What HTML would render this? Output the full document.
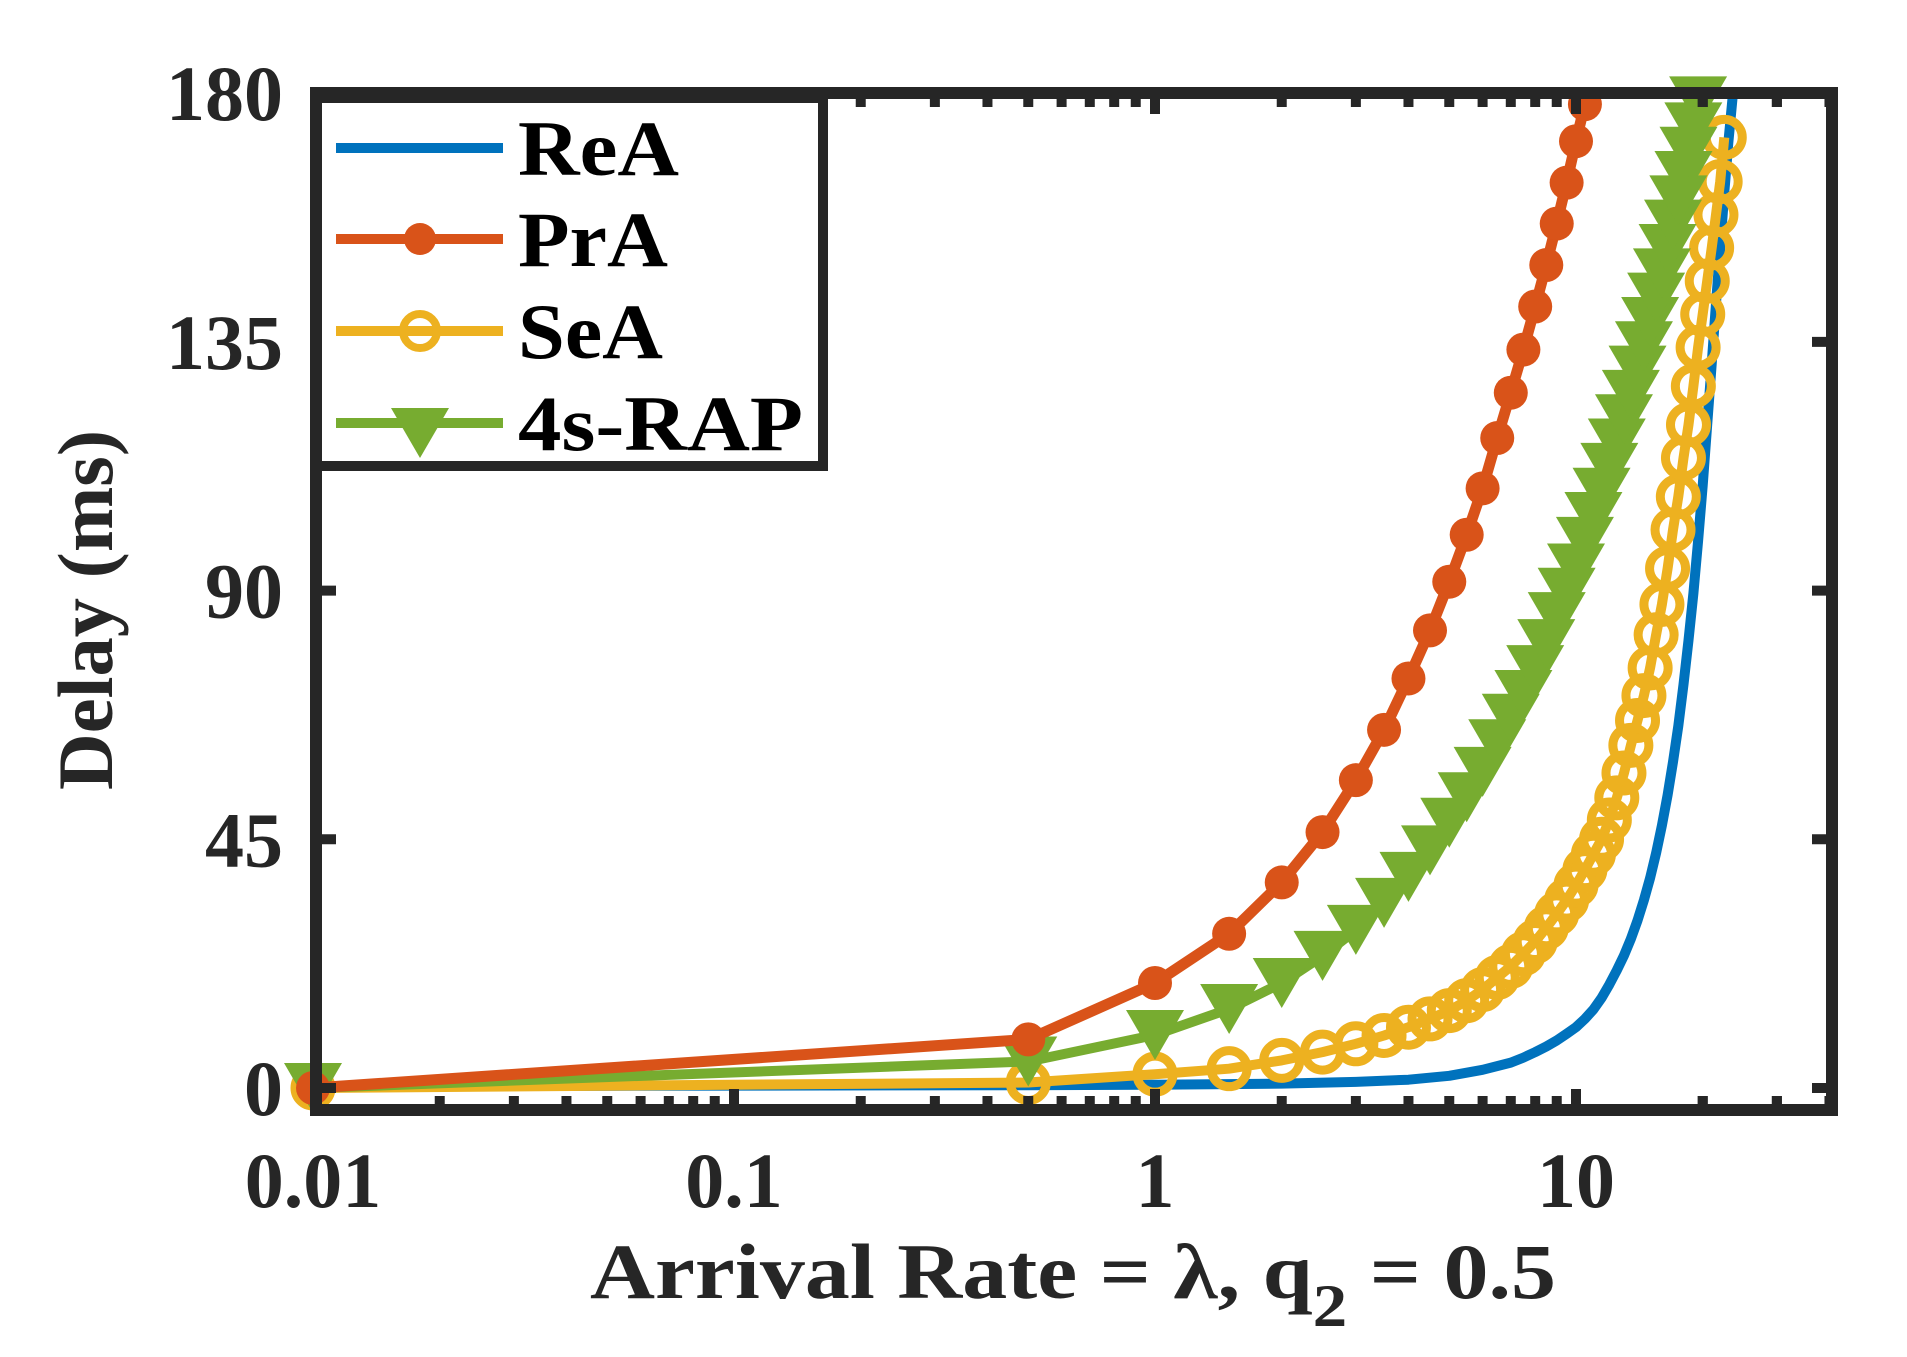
<!DOCTYPE html>
<html><head><meta charset="utf-8"><style>
html,body{margin:0;padding:0;background:#fff;}
svg{display:block;font-family:"Liberation Serif",serif;font-weight:bold;}
</style></head><body>
<svg id="chart" width="1907" height="1357" viewBox="0 0 1907 1357">
<g id="series"></g>
<g id="axes"></g>
<g id="legend"></g>
</svg>
<script>
// ---- data ----
const xTicks = [0.01, 0.1, 1, 10];
const xTickLabels = ["0.01", "0.1", "1", "10"];
const yTicks = [0, 45, 90, 135, 180];
const yTickLabels = ["0", "45", "90", "135", "180"];

const reaX = [0.01,0.5,1,2,3,4,5,6,7,7.5,8,8.5,9,9.5,10,10.5,11,11.5,12,12.5,13,13.5,14,14.5,15,15.5,16,16.5,17,17.5,18,18.5,19,19.5,20,20.5,21,21.5,22,22.5,23,23.6];
const reaY = [0.3,0.5,0.6,0.8,1.1,1.5,2.2,3.3,4.6,5.5,6.5,7.5,8.6,9.8,11,12.5,14.2,16.3,18.7,21.3,24,27,30.3,34,38,42.5,47.5,53,59,65.5,73,81,89.5,99,109,120,131,142,152,162,171,180];

const praX = [0.01,0.5,1,1.5,2,2.5,3,3.5,4,4.5,5,5.5,6,6.5,7,7.5,8,8.5,9,9.5,10,10.5];
const praY = [0,8.8,19,27.9,37.2,46.3,55.7,64.8,74.1,82.8,91.6,100.1,108.5,117.6,125.8,133.6,141.4,148.9,156.4,163.8,171.3,178];

const seaX = [0.01,0.5,1,1.5,2,2.5,3,3.5,4,4.5,5,5.5,6,6.5,7,7.5,8,8.5,9,9.5,10,10.5,11,11.5,12,12.5,13,13.5,14,14.5,15,15.5,16,16.5,17,17.5,18,18.5,19,19.5,20,20.5,21,21.5,22,22.5];
const seaY = [0,1,2.5,3.5,5,6.5,8,9.5,11,12.5,14,15.8,17.8,20,22,24.3,26.5,29,31.5,34,36.7,39.5,42.3,45,48.5,52.5,57,62,66.5,71,76,82,87.5,94,101,107,114,120,127,134,140,146,152,158,164,172];

const rapX = [0.01,0.5,1,1.5,2,2.5,3,3.5,4,4.5,5,5.5,6,6.5,7,7.5,8,8.5,9,9.5,10,10.5,11,11.5,12,12.5,13,13.5,14,14.5,15,15.5,16,16.5,17,17.5,18,18.5,19,19.5];
const rapY = [0,4.8,9.6,14.3,19,23.9,28.6,33.5,38.2,43,48,52.6,57.2,62.2,66.8,71.1,75.6,80.3,85.2,89.6,94,98.8,103.3,107.7,112.2,116.6,121,125.4,129.8,134.2,138.6,143,147.4,151.8,156.2,160.6,165,169.4,173.8,178.5];

// ---- axes functions ----
const NS = "http://www.w3.org/2000/svg";
const X0 = 316, X1 = 1832, Y0 = 1110, Y1 = 93;
function xs(v){ return 1155 + Math.log10(v) * 421; }
function ys(v){ return 1088 - v * 5.527; }
function mk(tag, attrs, parent){
  const e = document.createElementNS(NS, tag);
  for (const k in attrs) e.setAttribute(k, attrs[k]);
  parent.appendChild(e); return e;
}
const C = "#262626";
const gS = document.getElementById("series");
const gA = document.getElementById("axes");
const gL = document.getElementById("legend");

function pts(xa, ya){ return xa.map((x,i)=>xs(x).toFixed(1)+","+ys(ya[i]).toFixed(1)).join(" "); }

// ReA
let l = mk("polyline",{points:pts(reaX,reaY),fill:"none",stroke:"#0072BD","stroke-width":10,"stroke-linejoin":"round"},gS);



// SeA
l = mk("polyline",{points:pts(seaX,seaY),fill:"none",stroke:"#EDB120","stroke-width":10,"stroke-linejoin":"round"},gS);


seaX.forEach((x,i)=>{
  const c = mk("circle",{cx:xs(x),cy:ys(seaY[i]),r:18,fill:"none",stroke:"#EDB120","stroke-width":9},gS);
  
  
});

// 4s-RAP
l = mk("polyline",{points:pts(rapX,rapY),fill:"none",stroke:"#77AC30","stroke-width":10,"stroke-linejoin":"round"},gS);


rapX.forEach((x,i)=>{
  const cx = xs(x), cy = ys(rapY[i]);
  const t = mk("polygon",{points:(cx-29)+","+(cy-25)+" "+(cx+29)+","+(cy-25)+" "+cx+","+(cy+25),fill:"#77AC30"},gS);
  
  
});

// PrA
l = mk("polyline",{points:pts(praX,praY),fill:"none",stroke:"#D95319","stroke-width":11,"stroke-linejoin":"round"},gS);


praX.forEach((x,i)=>{
  const c = mk("circle",{cx:xs(x),cy:ys(praY[i]),r:17,fill:"#D95319"},gS);
  
  
});

// ticks
for (let d=-2; d<2; d++){
  for (let k=1;k<10;k++){
    const v = k*Math.pow(10,d);
    const px = xs(v);
    if (px < X0-1 || px > X1) continue;
    const len = k===1 ? 16 : 9;
    const a = mk("line",{x1:px,y1:Y0,x2:px,y2:Y0-len-5,stroke:C,"stroke-width":10},gA);
    
    
    const b = mk("line",{x1:px,y1:Y1,x2:px,y2:Y1+len+5,stroke:C,"stroke-width":10},gA);
    
    
  }
}
[20,30,40].forEach(v=>{
  const px = xs(v); if (px > X1-5) return;
  const a = mk("line",{x1:px,y1:Y0,x2:px,y2:Y0-14,stroke:C,"stroke-width":10},gA);
  
  
  const b = mk("line",{x1:px,y1:Y1,x2:px,y2:Y1+14,stroke:C,"stroke-width":10},gA);
  
  
});
xTicks.forEach((v,i)=>{
  const t = mk("text",{x:xs(v),y:1207,"text-anchor":"middle","font-size":78,fill:C},gA);
  t.textContent = xTickLabels[i];
  
  
});
yTicks.forEach((v,i)=>{
  const py = ys(v);
  const a = mk("line",{x1:X0,y1:py,x2:X0+20,y2:py,stroke:C,"stroke-width":10},gA);
  
  
  const b = mk("line",{x1:X1,y1:py,x2:X1-20,y2:py,stroke:C,"stroke-width":10},gA);
  
  
  const t = mk("text",{x:283,y:py+27,"text-anchor":"end","font-size":78,fill:C},gA);
  t.textContent = yTickLabels[i];
  
  
});
// frame
const fr = mk("rect",{x:X0,y:Y1,width:X1-X0,height:Y0-Y1,fill:"none",stroke:C,"stroke-width":12},gA);



// axis titles
let xt = mk("text",{x:1073,y:1298,"text-anchor":"middle","font-size":78,fill:C,textLength:966,lengthAdjust:"spacingAndGlyphs"},gA);
xt.innerHTML = 'Arrival Rate = λ, q<tspan font-size="60" dy="28">2</tspan><tspan dy="-28"> = 0.5</tspan>';


let yt = mk("text",{x:0,y:0,"text-anchor":"middle","font-size":78,fill:C,transform:"translate(112,610) rotate(-90)",textLength:360,lengthAdjust:"spacingAndGlyphs"},gA);
yt.textContent = "Delay (ms)";



// legend
const lb = mk("rect",{x:317,y:98,width:506,height:368,fill:"#fff",stroke:C,"stroke-width":10},gL);


const entries = [
  {n:"ReA",c:"#0072BD",y:148,m:"none",w:161},
  {n:"PrA",c:"#D95319",y:239,m:"dot",w:150},
  {n:"SeA",c:"#EDB120",y:331,m:"ring",w:145},
  {n:"4s-RAP",c:"#77AC30",y:423,m:"tri",w:285}
];
entries.forEach(e=>{
  const g = mk("g",{},gL);
  
  
  mk("line",{x1:336,y1:e.y,x2:503,y2:e.y,stroke:e.c,"stroke-width":10},g);
  if (e.m==="dot") mk("circle",{cx:420,cy:e.y,r:16,fill:e.c},g);
  if (e.m==="ring") mk("circle",{cx:420,cy:e.y,r:17,fill:"none",stroke:e.c,"stroke-width":8},g);
  if (e.m==="tri") mk("polygon",{points:"391,"+(e.y-15)+" 449,"+(e.y-15)+" 420,"+(e.y+35),fill:e.c},g);
  const t = mk("text",{x:518,y:e.y+27,"font-size":78,fill:"#000",textLength:e.w,lengthAdjust:"spacingAndGlyphs"},g);
  t.textContent = e.n;
});
</script>
</body></html>
